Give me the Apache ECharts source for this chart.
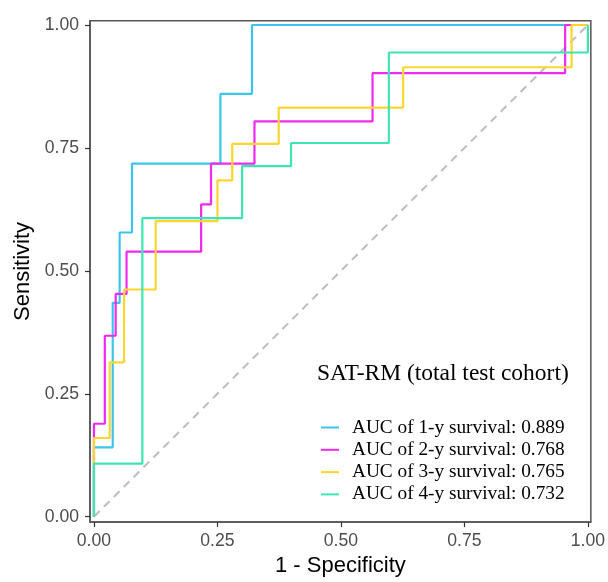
<!DOCTYPE html>
<html>
<head>
<meta charset="utf-8">
<script src="https://cdn.jsdelivr.net/npm/echarts@6/dist/echarts.min.js"></script>
<style>html,body{margin:0;padding:0;background:#fff;}#c{width:608px;height:582px;}</style>
</head>
<body>
<div id="c"></div>
<script>
// ROC operating points (1 - specificity, sensitivity)
const fpr1 = [0, 0, 0.038, 0.052, 0.077, 0.256, 0.320, 1.0];
const tpr1 = [0, 0.141, 0.435, 0.578, 0.718, 0.860, 1.0, 1.0];
const fpr2 = [0, 0, 0.022, 0.044, 0.066, 0.217, 0.237, 0.325, 0.564, 0.954, 1.0];
const tpr2 = [0, 0.189, 0.368, 0.453, 0.539, 0.635, 0.718, 0.804, 0.902, 1.0, 1.0];
const fpr3 = [0, 0, 0.032, 0.061, 0.125, 0.250, 0.280, 0.374, 0.626, 0.967, 1.0];
const tpr3 = [0, 0.160, 0.314, 0.462, 0.601, 0.684, 0.758, 0.832, 0.914, 1.0, 1.0];
const fpr4 = [0, 0, 0.098, 0.300, 0.399, 0.597, 1.0];
const tpr4 = [0, 0.108, 0.607, 0.713, 0.760, 0.944, 1.0];
const diagX = [0, 1];
const diagY = [0, 1];
const seriesNames = ['AUC of 1-y survival: 0.889', 'AUC of 2-y survival: 0.768', 'AUC of 3-y survival: 0.765', 'AUC of 4-y survival: 0.732'];
const colors = ['#3EC3EE', '#EE2AEE', '#FDD52E', '#3EE4B4'];
const tickValues = [0, 0.25, 0.5, 0.75, 1];
const legendTitle = 'SAT-RM (total test cohort)';

const pairs = (xs, ys) => xs.map((x, i) => [x, ys[i]]);
const curves = [pairs(fpr1, tpr1), pairs(fpr2, tpr2), pairs(fpr3, tpr3), pairs(fpr4, tpr4)];

const sans = '"Liberation Sans", Arial, sans-serif';
const serif = '"Liberation Serif", "Times New Roman", serif';

const axisCommon = {
  type: 'value',
  nameLocation: 'middle',
  nameTextStyle: { fontFamily: sans, fontSize: 22, color: '#000' },
  splitLine: { show: false },
  axisLine: { show: true, onZero: false, lineStyle: { color: '#555', width: 1.5 } },
  axisTick: { show: true, customValues: tickValues, length: 5, lineStyle: { color: '#333', width: 1.2 } },
  axisLabel: { customValues: tickValues, fontFamily: sans, fontSize: 17.6, color: '#4D4D4D',
               formatter: v => v.toFixed(2) }
};

const chart = echarts.init(document.getElementById('c'), null, { renderer: 'canvas' });
chart.setOption({
  animation: false,
  backgroundColor: '#fff',
  title: {
    text: legendTitle, left: 317, top: 362, padding: 0,
    textStyle: { fontFamily: serif, fontSize: 23.5, fontWeight: 'normal', color: '#000' }
  },
  legend: {
    orient: 'vertical', left: 321, top: 418, padding: 0,
    itemWidth: 18, itemHeight: 2, itemGap: 3.3, icon: 'rect',
    data: seriesNames,
    textStyle: { fontFamily: serif, fontSize: 19.3, color: '#000', lineHeight: 19, padding: [0, 0, 0, 8] }
  },
  grid: { left: 90, right: 15.5, top: 20.7, bottom: 58, show: true, borderColor: '#555', borderWidth: 1.5, containLabel: false },
  xAxis: Object.assign({}, axisCommon, {
    name: '1 - Specificity', nameGap: 32, min: -0.008, max: 1.006,
    axisLabel: Object.assign({}, axisCommon.axisLabel, { margin: 10 })
  }),
  yAxis: Object.assign({}, axisCommon, {
    name: 'Sensitivity', nameGap: 56, nameRotate: 90, min: -0.011, max: 1.0087,
    axisLabel: Object.assign({}, axisCommon.axisLabel, { margin: 11 })
  }),
  series: [
    {
      type: 'line', name: 'diag', data: pairs(diagX, diagY), symbol: 'none', silent: true,
      lineStyle: { color: '#BDBDBD', width: 2, type: [8, 6] }, z: 1
    }
  ].concat(curves.map((d, i) => ({
    type: 'line', name: seriesNames[i], data: d, step: 'end', symbol: 'none',
    color: colors[i], lineStyle: { color: colors[i], width: 2.2 }, z: 2 + i
  })))
});
</script>
</body>
</html>
